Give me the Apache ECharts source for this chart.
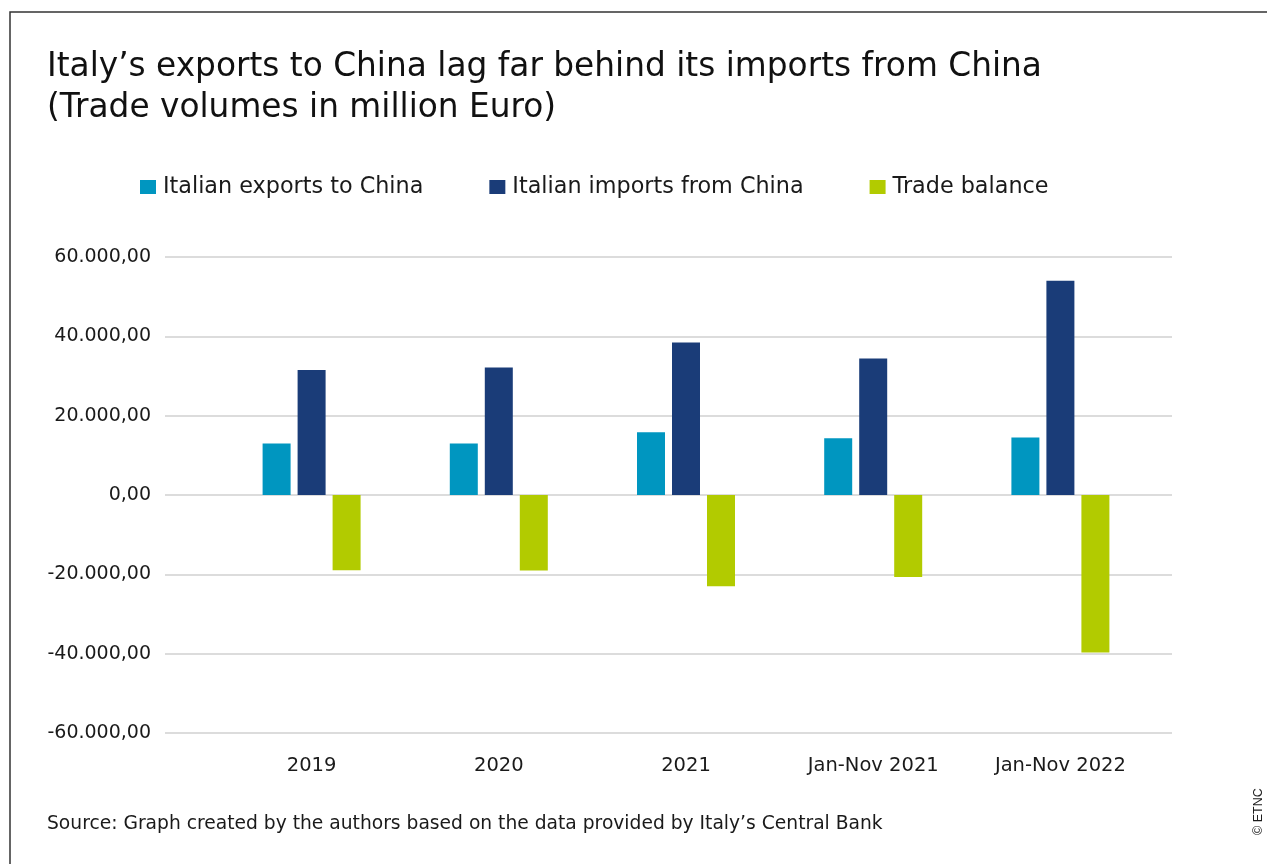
<!DOCTYPE html>
<html lang="en">

<head>
    <meta charset="UTF-8">
    <title>Italy - China trade</title>
    <style>
        html,
        body,
        #main {
            width: 100%;
            height: 100%;
            margin: 0;
            padding: 0;
            background-color: #ffffff;
        }
    </style>
    <script src="https://cdn.jsdelivr.net/npm/echarts@6/dist/echarts.min.js"></script>
</head>

<body>
    <div id="main"></div>
    <script>
        // values (million Euro)
        const categories = ['2019', '2020', '2021', 'Jan-Nov 2021', 'Jan-Nov 2022'];
        const exportsToChina = [13000, 13000, 15800, 14300, 14500];
        const importsFromChina = [31500, 32150, 38450, 34400, 54000];
        const tradeBalance = [-19000, -19050, -23000, -20700, -39700];
        const yTicks = { min: -60000, max: 60000, interval: 20000 };

        const FONT = 'DejaVu Sans';
        const colors = ['#0096c0', '#1a3c78', '#b2cb00'];

        // 60000 -> "60.000,00"
        function euroFmt(v) {
            var neg = v < 0;
            var s = Math.abs(v).toFixed(0).replace(/\B(?=(\d{3})+(?!\d))/g, '.');
            return (neg ? '-' : '') + s + ',00';
        }

        var chart = echarts.init(document.getElementById('main'));

        var option = {
            animation: false,
            textStyle: { fontFamily: FONT, color: '#1a1a1a' },
            color: colors,
            title: {
                text: 'Italy\u2019s exports to China lag far behind its imports from China\n(Trade volumes in million Euro)',
                left: 42,
                top: 42,
                textStyle: { fontFamily: FONT, fontSize: 32.8, fontWeight: 'normal', color: '#111', lineHeight: 41 }
            },
            legend: {
                left: 135,
                top: 171,
                itemWidth: 16,
                itemHeight: 14,
                itemGap: 66,
                icon: 'rect',
                textStyle: { fontFamily: FONT, fontSize: 22.3, color: '#1a1a1a', padding: [0, 0, 0, 2] },
                data: ['Italian exports to China', 'Italian imports from China', 'Trade balance']
            },
            // grid 0 only carries the gridlines and y labels, grid 1 the bars
            grid: [
                { left: 165, right: 95, top: 257, bottom: 131 },
                { left: 218, right: 113, top: 257, bottom: 131 }
            ],
            xAxis: [
                { gridIndex: 0, type: 'category', data: [''], show: false },
                {
                    gridIndex: 1,
                    type: 'category',
                    data: categories,
                    axisLine: { show: false },
                    axisTick: { show: false },
                    axisLabel: { fontFamily: FONT, fontSize: 19.5, color: '#1a1a1a', margin: 23 }
                }
            ],
            yAxis: [
                {
                    gridIndex: 0,
                    type: 'value',
                    min: yTicks.min,
                    max: yTicks.max,
                    interval: yTicks.interval,
                    axisLine: { show: false },
                    axisTick: { show: false },
                    splitLine: { lineStyle: { color: '#d0d0d0', width: 1.5 } },
                    axisLabel: { fontFamily: FONT, fontSize: 19, color: '#1a1a1a', margin: 14, formatter: euroFmt }
                },
                {
                    gridIndex: 1,
                    type: 'value',
                    min: yTicks.min,
                    max: yTicks.max,
                    interval: yTicks.interval,
                    show: false,
                    splitLine: { show: false }
                }
            ],
            series: [
                {
                    name: 'Italian exports to China',
                    type: 'bar',
                    xAxisIndex: 1,
                    yAxisIndex: 1,
                    barWidth: 28,
                    barGap: '25%',
                    data: exportsToChina
                },
                {
                    name: 'Italian imports from China',
                    type: 'bar',
                    xAxisIndex: 1,
                    yAxisIndex: 1,
                    barWidth: 28,
                    barGap: '25%',
                    data: importsFromChina
                },
                {
                    name: 'Trade balance',
                    type: 'bar',
                    xAxisIndex: 1,
                    yAxisIndex: 1,
                    barWidth: 28,
                    barGap: '25%',
                    data: tradeBalance
                }
            ],
            graphic: [
                {
                    type: 'polyline',
                    shape: { points: [[10, 864], [10, 12], [1267, 12]] },
                    style: { stroke: '#333', lineWidth: 1.5, fill: null }
                },
                {
                    type: 'text',
                    left: 47,
                    top: 815,
                    style: { text: 'Source: Graph created by the authors based on the data provided by Italy\u2019s Central Bank', font: '18.7px "DejaVu Sans"', fill: '#1a1a1a' }
                },
                {
                    type: 'text',
                    x: 1252,
                    y: 835,
                    rotation: Math.PI / 2,
                    style: { text: '\u00a9 ETNC', font: '12.5px "Liberation Sans"', fill: '#1a1a1a' }
                }
            ]
        };

        chart.setOption(option);
    </script>
</body>

</html>
